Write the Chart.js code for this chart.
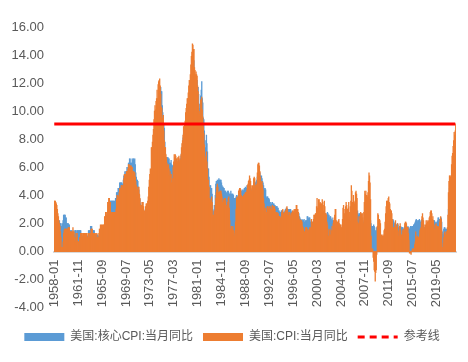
<!DOCTYPE html>
<html>
<head>
<meta charset="utf-8">
<script src="https://cdn.jsdelivr.net/npm/chart.js@4/dist/chart.umd.min.js"></script>
<style>
  body { margin: 0; background: #fff; }
  #wrap { width: 468px; height: 362px; }
</style>
</head>
<body>
<div id="wrap"><canvas id="chartCpi"></canvas></div>
<script>
// first month of the series, monthly data to 2022-06
var startYear = 1958;
var startMonth = 1;

// 美国:核心CPI:当月同比 (%)
var coreCpi = [
  2.6, 2.6, 2.6, 2.6, 2.6, 2.4, 2.4, 2.0, 2.0, 2.0, 2.2, 2.0, // 1958
  2.0, 2.0, 1.8, 1.8, 2.0, 2.2, 2.6, 2.6, 2.6, 2.6, 2.4, 2.4, // 1959
  2.0, 2.0, 2.0, 2.0, 1.9, 1.9, 1.5, 1.5, 1.2, 1.5, 1.5, 1.2, // 1960
  1.2, 1.2, 1.5, 1.2, 1.5, 1.5, 1.5, 1.2, 1.5, 1.5, 1.5, 1.5, // 1961
  1.5, 1.5, 1.5, 1.5, 1.1, 1.1, 1.1, 1.1, 1.1, 1.1, 1.1, 1.1, // 1962
  1.1, 1.1, 1.1, 1.1, 1.1, 1.1, 1.5, 1.5, 1.5, 1.5, 1.8, 1.8, // 1963
  1.8, 1.5, 1.5, 1.5, 1.5, 1.5, 1.2, 1.2, 1.2, 1.2, 1.2, 1.2, // 1964
  1.1, 1.1, 1.1, 1.1, 1.1, 1.1, 1.5, 1.5, 1.5, 1.5, 1.5, 1.5, // 1965
  1.5, 1.8, 2.2, 2.2, 2.6, 2.6, 2.6, 2.9, 3.3, 3.3, 3.3, 3.3, // 1966
  3.6, 3.6, 3.6, 3.6, 3.6, 3.6, 3.6, 3.6, 3.6, 3.5, 3.8, 3.8, // 1967
  4.2, 4.2, 4.2, 4.5, 4.5, 4.5, 4.9, 4.9, 4.9, 4.9, 4.9, 4.8, // 1968
  4.8, 5.1, 5.4, 5.4, 5.7, 5.4, 5.7, 5.7, 6.0, 5.7, 6.0, 6.3, // 1969
  6.3, 6.6, 6.6, 6.3, 6.3, 6.3, 6.6, 6.5, 6.6, 6.6, 6.5, 6.6, // 1970
  6.2, 5.6, 5.3, 5.1, 5.1, 5.0, 4.6, 4.4, 4.0, 3.7, 3.4, 3.1, // 1971
  3.1, 3.1, 3.1, 3.0, 3.0, 2.7, 2.7, 2.7, 2.7, 3.0, 3.0, 3.0, // 1972
  3.0, 2.7, 3.0, 3.0, 3.0, 3.0, 3.2, 3.2, 3.5, 3.8, 4.4, 4.7, // 1973
  5.0, 5.3, 5.9, 6.8, 7.9, 8.8, 9.6, 10.4, 10.8, 11.1, 11.1, 11.1, // 1974
  11.4, 11.7, 11.4, 11.4, 10.4, 9.9, 9.3, 9.1, 8.8, 7.8, 7.0, 6.7, // 1975
  6.7, 6.7, 6.7, 6.7, 6.6, 6.6, 6.3, 6.3, 6.3, 6.5, 6.2, 6.1, // 1976
  6.1, 6.1, 6.1, 6.0, 6.3, 6.2, 6.2, 6.4, 6.4, 6.1, 6.1, 6.5, // 1977
  6.5, 6.4, 6.4, 6.6, 6.8, 7.0, 7.2, 7.7, 8.1, 8.4, 8.6, 8.5, // 1978
  8.4, 8.7, 8.8, 9.0, 9.3, 9.4, 9.6, 10.1, 10.6, 11.0, 11.3, 11.3, // 1979
  12.0, 12.1, 13.0, 13.0, 13.1, 13.6, 12.4, 12.0, 12.0, 12.2, 12.1, 12.2, // 1980
  11.7, 11.7, 11.2, 10.5, 10.2, 9.6, 11.1, 11.5, 12.1, 10.9, 10.6, 9.5, // 1981
  9.4, 8.6, 7.3, 7.4, 7.9, 8.3, 7.7, 7.1, 5.9, 5.9, 5.3, 4.5, // 1982
  4.7, 4.7, 4.4, 4.5, 4.1, 3.3, 2.9, 2.8, 3.0, 3.3, 4.0, 4.8, // 1983
  5.0, 5.0, 5.1, 5.0, 5.1, 5.2, 5.1, 5.1, 5.1, 5.1, 4.9, 4.7, // 1984
  4.6, 4.6, 4.5, 4.5, 4.3, 4.3, 4.3, 4.0, 4.2, 4.1, 4.3, 4.3, // 1985
  4.2, 4.1, 4.1, 4.1, 4.3, 4.1, 4.1, 4.1, 4.1, 4.0, 3.8, 3.8, // 1986
  3.8, 3.8, 3.9, 4.0, 3.8, 3.9, 4.0, 4.1, 4.2, 4.3, 4.3, 4.2, // 1987
  4.3, 4.3, 4.4, 4.2, 4.3, 4.4, 4.5, 4.5, 4.6, 4.5, 4.5, 4.7, // 1988
  4.6, 4.6, 4.6, 4.6, 4.5, 4.5, 4.6, 4.4, 4.4, 4.3, 4.4, 4.4, // 1989
  4.4, 4.6, 4.9, 4.9, 4.9, 5.0, 5.1, 5.3, 5.3, 5.3, 5.3, 5.2, // 1990
  5.6, 5.4, 5.3, 5.4, 5.2, 5.0, 4.9, 4.7, 4.5, 4.4, 4.5, 4.4, // 1991
  3.9, 3.8, 3.9, 3.9, 3.8, 3.8, 3.7, 3.5, 3.3, 3.5, 3.4, 3.3, // 1992
  3.5, 3.3, 3.4, 3.4, 3.3, 3.3, 3.2, 3.2, 3.2, 3.2, 3.1, 3.1, // 1993
  2.9, 2.9, 2.8, 2.8, 2.8, 2.9, 2.9, 2.9, 2.9, 2.8, 2.8, 2.6, // 1994
  2.9, 3.0, 3.0, 3.1, 3.1, 3.0, 3.0, 3.0, 2.9, 3.0, 3.0, 3.0, // 1995
  2.9, 2.8, 2.8, 2.7, 2.7, 2.7, 2.7, 2.6, 2.7, 2.6, 2.6, 2.6, // 1996
  2.5, 2.5, 2.5, 2.7, 2.5, 2.4, 2.3, 2.2, 2.2, 2.3, 2.2, 2.2, // 1997
  2.2, 2.3, 2.1, 2.1, 2.2, 2.2, 2.2, 2.5, 2.5, 2.3, 2.4, 2.4, // 1998
  2.4, 2.1, 2.1, 2.2, 2.0, 2.1, 2.1, 1.9, 2.0, 2.1, 2.1, 1.9, // 1999
  2.0, 2.2, 2.4, 2.3, 2.4, 2.5, 2.5, 2.6, 2.6, 2.5, 2.6, 2.6, // 2000
  2.6, 2.7, 2.7, 2.6, 2.5, 2.7, 2.7, 2.7, 2.6, 2.6, 2.8, 2.7, // 2001
  2.6, 2.6, 2.4, 2.5, 2.5, 2.3, 2.2, 2.4, 2.2, 2.2, 2.0, 1.9, // 2002
  1.9, 1.7, 1.7, 1.5, 1.6, 1.5, 1.5, 1.3, 1.2, 1.3, 1.1, 1.1, // 2003
  1.1, 1.2, 1.6, 1.8, 1.7, 1.9, 1.8, 1.7, 2.0, 2.0, 2.2, 2.2, // 2004
  2.3, 2.4, 2.3, 2.2, 2.2, 2.0, 2.1, 2.1, 2.0, 2.1, 2.1, 2.2, // 2005
  2.1, 2.1, 2.1, 2.3, 2.4, 2.6, 2.7, 2.8, 2.9, 2.7, 2.6, 2.6, // 2006
  2.7, 2.7, 2.5, 2.3, 2.2, 2.2, 2.2, 2.1, 2.1, 2.2, 2.3, 2.4, // 2007
  2.5, 2.3, 2.4, 2.3, 2.3, 2.4, 2.5, 2.5, 2.5, 2.2, 2.0, 1.8, // 2008
  1.7, 1.8, 1.8, 1.9, 1.8, 1.7, 1.5, 1.4, 1.5, 1.7, 1.7, 1.8, // 2009
  1.6, 1.3, 1.1, 0.9, 0.9, 0.9, 0.9, 0.9, 0.8, 0.6, 0.8, 0.8, // 2010
  1.0, 1.1, 1.2, 1.3, 1.5, 1.6, 1.8, 2.0, 2.0, 2.1, 2.2, 2.2, // 2011
  2.3, 2.2, 2.3, 2.3, 2.3, 2.2, 2.1, 1.9, 2.0, 2.0, 1.9, 1.9, // 2012
  1.9, 2.0, 1.9, 1.7, 1.7, 1.6, 1.7, 1.8, 1.7, 1.7, 1.7, 1.7, // 2013
  1.6, 1.6, 1.7, 1.8, 2.0, 1.9, 1.9, 1.7, 1.7, 1.8, 1.7, 1.6, // 2014
  1.6, 1.7, 1.8, 1.8, 1.7, 1.8, 1.8, 1.8, 1.9, 1.9, 2.0, 2.1, // 2015
  2.2, 2.3, 2.2, 2.1, 2.2, 2.2, 2.2, 2.3, 2.2, 2.1, 2.1, 2.2, // 2016
  2.3, 2.2, 2.0, 1.9, 1.7, 1.7, 1.7, 1.7, 1.7, 1.8, 1.7, 1.8, // 2017
  1.8, 1.8, 2.1, 2.1, 2.2, 2.3, 2.4, 2.2, 2.2, 2.1, 2.2, 2.2, // 2018
  2.2, 2.1, 2.0, 2.1, 2.0, 2.1, 2.2, 2.4, 2.4, 2.3, 2.3, 2.3, // 2019
  2.3, 2.4, 2.1, 1.4, 1.2, 1.2, 1.6, 1.7, 1.7, 1.6, 1.6, 1.6, // 2020
  1.4, 1.3, 1.6, 3.0, 3.8, 4.5, 4.3, 4.0, 4.0, 4.6, 4.9, 5.5, // 2021
  6.0, 6.4, 6.5, 6.2, 6.0, 5.9                                // 2022
];

// 美国:CPI:当月同比 (%)
var cpi = [
  3.6, 3.6, 3.6, 3.5, 3.4, 3.3, 3.0, 2.7, 2.5, 2.2, 2.0, 1.8, // 1958
  1.4, 1.0, 0.3, 0.3, 0.3, 0.7, 1.3, 1.5, 1.6, 1.6, 1.6, 1.6, // 1959
  1.6, 1.6, 1.6, 1.7, 1.7, 1.7, 1.4, 1.4, 1.4, 1.4, 1.4, 1.4, // 1960
  1.7, 1.4, 1.4, 1.0, 1.0, 0.7, 1.3, 1.0, 1.3, 0.7, 0.7, 0.7, // 1961
  0.7, 1.0, 1.0, 1.3, 1.3, 1.3, 1.0, 1.3, 1.3, 1.3, 1.3, 1.3, // 1962
  1.3, 1.0, 1.3, 1.0, 1.0, 1.3, 1.3, 1.3, 1.0, 1.3, 1.3, 1.6, // 1963
  1.6, 1.6, 1.3, 1.3, 1.3, 1.3, 1.3, 1.0, 1.3, 1.0, 1.3, 1.0, // 1964
  1.0, 1.0, 1.3, 1.6, 1.6, 1.9, 1.6, 1.9, 1.6, 1.9, 1.6, 1.9, // 1965
  1.9, 2.5, 2.5, 2.8, 2.8, 2.5, 2.8, 3.5, 3.5, 3.8, 3.8, 3.5, // 1966
  3.5, 2.8, 2.8, 2.5, 2.8, 2.8, 2.8, 2.5, 2.8, 2.5, 2.8, 3.0, // 1967
  3.7, 4.0, 4.0, 3.9, 3.9, 4.2, 4.5, 4.5, 4.4, 4.7, 4.7, 4.7, // 1968
  4.4, 4.7, 5.2, 5.5, 5.5, 5.5, 5.4, 5.7, 5.7, 5.7, 5.9, 6.2, // 1969
  6.2, 6.1, 5.8, 6.1, 6.1, 6.0, 6.0, 5.4, 5.7, 5.7, 5.6, 5.6, // 1970
  5.3, 5.0, 4.7, 4.2, 4.4, 4.6, 4.4, 4.6, 4.1, 3.8, 3.3, 3.3, // 1971
  3.3, 3.5, 3.5, 3.5, 3.2, 2.7, 2.9, 2.9, 3.2, 3.4, 3.4, 3.4, // 1972
  3.6, 3.9, 4.6, 5.1, 5.5, 5.9, 5.7, 7.4, 7.4, 7.8, 8.3, 8.7, // 1973
  9.4, 10.0, 10.4, 10.1, 10.7, 10.9, 11.5, 10.9, 11.9, 12.1, 12.2, 12.3, // 1974
  11.8, 11.2, 10.3, 10.2, 9.5, 9.3, 9.7, 8.6, 7.9, 7.4, 7.4, 6.9, // 1975
  6.7, 6.3, 6.1, 6.0, 6.2, 5.9, 5.4, 5.7, 5.5, 5.5, 4.9, 4.9, // 1976
  5.2, 6.0, 6.4, 6.9, 6.7, 6.9, 6.8, 6.6, 6.6, 6.4, 6.7, 6.7, // 1977
  6.8, 6.4, 6.6, 6.5, 6.9, 7.4, 7.7, 7.9, 8.3, 8.9, 8.9, 9.0, // 1978
  9.3, 9.9, 10.2, 10.5, 10.9, 10.9, 11.3, 11.8, 12.2, 12.1, 12.6, 13.3, // 1979
  13.9, 14.2, 14.8, 14.7, 14.4, 14.4, 13.1, 12.9, 12.6, 12.8, 12.6, 12.5, // 1980
  11.8, 11.4, 10.5, 10.0, 9.8, 9.6, 10.8, 10.8, 11.0, 10.1, 9.6, 8.9, // 1981
  8.4, 7.6, 6.8, 6.5, 6.7, 7.1, 6.4, 5.9, 5.0, 5.1, 4.6, 3.8, // 1982
  3.7, 3.5, 3.6, 3.9, 3.5, 2.6, 2.5, 2.6, 2.9, 2.9, 3.3, 3.8, // 1983
  4.2, 4.6, 4.8, 4.6, 4.2, 4.2, 4.2, 4.3, 4.3, 4.3, 4.1, 3.9, // 1984
  3.5, 3.5, 3.7, 3.7, 3.8, 3.8, 3.6, 3.3, 3.1, 3.2, 3.5, 3.8, // 1985
  3.9, 3.1, 2.2, 1.6, 1.5, 1.8, 1.6, 1.6, 1.8, 1.5, 1.3, 1.1, // 1986
  1.5, 2.1, 3.0, 3.8, 3.9, 3.7, 3.9, 4.3, 4.4, 4.5, 4.5, 4.4, // 1987
  4.0, 3.9, 3.9, 3.9, 3.9, 4.0, 4.1, 4.0, 4.2, 4.2, 4.2, 4.4, // 1988
  4.7, 4.8, 5.0, 5.1, 5.4, 5.2, 5.0, 4.7, 4.3, 4.5, 4.7, 4.6, // 1989
  5.2, 5.3, 5.2, 4.7, 4.4, 4.7, 4.8, 5.6, 6.2, 6.3, 6.3, 6.1, // 1990
  5.7, 5.3, 4.9, 4.9, 5.0, 4.7, 4.4, 3.8, 3.4, 2.9, 3.0, 3.1, // 1991
  2.6, 2.8, 3.2, 3.2, 3.0, 3.1, 3.2, 3.1, 3.0, 3.2, 3.0, 2.9, // 1992
  3.3, 3.2, 3.1, 3.2, 3.2, 3.0, 2.8, 2.8, 2.7, 2.8, 2.7, 2.7, // 1993
  2.5, 2.5, 2.5, 2.4, 2.3, 2.5, 2.8, 2.9, 3.0, 2.6, 2.7, 2.7, // 1994
  2.8, 2.9, 2.9, 3.1, 3.2, 3.0, 2.8, 2.6, 2.5, 2.8, 2.6, 2.5, // 1995
  2.7, 2.7, 2.8, 2.9, 2.9, 2.8, 3.0, 2.9, 3.0, 3.0, 3.3, 3.3, // 1996
  3.0, 3.0, 2.8, 2.5, 2.2, 2.3, 2.2, 2.2, 2.2, 2.1, 1.8, 1.7, // 1997
  1.6, 1.4, 1.4, 1.4, 1.7, 1.7, 1.7, 1.6, 1.5, 1.5, 1.5, 1.6, // 1998
  1.7, 1.6, 1.7, 2.3, 2.1, 2.0, 2.1, 2.3, 2.6, 2.6, 2.6, 2.7, // 1999
  2.7, 3.2, 3.8, 3.1, 3.2, 3.7, 3.7, 3.4, 3.5, 3.4, 3.4, 3.4, // 2000
  3.7, 3.5, 2.9, 3.3, 3.6, 3.2, 2.7, 2.7, 2.6, 2.1, 1.9, 1.6, // 2001
  1.1, 1.1, 1.5, 1.6, 1.2, 1.1, 1.5, 1.8, 1.5, 2.0, 2.2, 2.4, // 2002
  2.6, 3.0, 3.0, 2.2, 2.1, 2.1, 2.1, 2.2, 2.3, 2.0, 1.8, 1.9, // 2003
  1.9, 1.7, 1.7, 2.3, 3.1, 3.3, 3.0, 2.7, 2.5, 3.2, 3.5, 3.3, // 2004
  3.0, 3.0, 3.1, 3.5, 2.8, 2.5, 3.2, 3.6, 4.7, 4.3, 3.5, 3.4, // 2005
  4.0, 3.6, 3.4, 3.5, 4.2, 4.3, 4.1, 3.8, 2.1, 1.3, 2.0, 2.5, // 2006
  2.1, 2.4, 2.8, 2.6, 2.7, 2.7, 2.4, 2.0, 2.8, 3.5, 4.3, 4.1, // 2007
  4.3, 4.0, 4.0, 3.9, 4.2, 5.0, 5.6, 5.4, 4.9, 3.7, 1.1, 0.1, // 2008
  0.0, 0.2, -0.4, -0.7, -1.3, -1.4, -2.1, -1.5, -1.3, -0.2, 1.8, 2.7, // 2009
  2.6, 2.1, 2.3, 2.2, 2.0, 1.1, 1.2, 1.1, 1.1, 1.2, 1.1, 1.5, // 2010
  1.6, 2.1, 2.7, 3.2, 3.6, 3.6, 3.6, 3.8, 3.9, 3.5, 3.4, 3.0, // 2011
  2.9, 2.9, 2.7, 2.3, 1.7, 1.7, 1.4, 1.7, 2.0, 2.2, 1.8, 1.7, // 2012
  1.6, 2.0, 1.5, 1.1, 1.4, 1.8, 2.0, 1.5, 1.2, 1.0, 1.2, 1.5, // 2013
  1.6, 1.1, 1.5, 2.0, 2.1, 2.1, 2.0, 1.7, 1.7, 1.7, 1.3, 0.8, // 2014
  -0.1, 0.0, -0.1, -0.2, 0.0, 0.1, 0.2, 0.2, 0.0, 0.2, 0.5, 0.7, // 2015
  1.4, 1.0, 0.9, 1.1, 1.0, 1.0, 0.8, 1.1, 1.5, 1.6, 1.7, 2.1, // 2016
  2.5, 2.7, 2.4, 2.2, 1.9, 1.6, 1.7, 1.9, 2.2, 2.0, 2.2, 2.1, // 2017
  2.1, 2.2, 2.4, 2.5, 2.8, 2.9, 2.9, 2.7, 2.3, 2.5, 2.2, 1.9, // 2018
  1.6, 1.5, 1.9, 2.0, 1.8, 1.6, 1.8, 1.7, 1.7, 1.8, 2.1, 2.3, // 2019
  2.5, 2.3, 1.5, 0.3, 0.1, 0.6, 1.0, 1.3, 1.4, 1.2, 1.2, 1.4, // 2020
  1.4, 1.7, 2.6, 4.2, 5.0, 5.4, 5.4, 5.3, 5.4, 6.2, 6.8, 7.0, // 2021
  7.5, 7.9, 8.5, 8.3, 8.6, 9.1                                // 2022
];

// 参考线
var refValue = 9.1;

// show one date label every 46 months, as in the source chart
var labelStep = 46;

var labels = [];
for (var i = 0; i < cpi.length; i++) {
    var m = startMonth - 1 + i;
    var y = startYear + Math.floor(m / 12);
    var mm = (m % 12) + 1;
    labels.push(y + '-' + (mm < 10 ? '0' + mm : mm));
}
var refLine = labels.map(function() { return refValue; });

var textColor = '#595959';
var fontFamily = "'Liberation Sans', 'Noto Sans CJK SC', sans-serif";

var ctx = document.querySelector('#chartCpi').getContext('2d');
var chart = new Chart(ctx, {
    type: 'bar',
    data: {
        labels: labels,
        datasets: [{
            label: '美国:核心CPI:当月同比',
            data: coreCpi,
            backgroundColor: '#5B9BD5',
            borderColor: '#5B9BD5',
            borderWidth: 0,
            order: 2
        }, {
            label: '美国:CPI:当月同比',
            data: cpi,
            backgroundColor: '#ED7D31',
            borderColor: '#ED7D31',
            borderWidth: 0,
            order: 1
        }, {
            type: 'line',
            label: '参考线',
            data: refLine,
            borderColor: '#FF0000',
            backgroundColor: '#FF0000',
            borderWidth: 3,
            pointRadius: 0,
            order: 0
        }]
    },
    options: {
        responsive: true,
        maintainAspectRatio: false,
        animation: false,
        layout: { padding: { left: 8, right: 12, top: 27, bottom: 9 } },
        datasets: {
            bar: {
                grouped: false,
                barPercentage: 1,
                categoryPercentage: 1,
                inflateAmount: 0.4
            }
        },
        scales: {
            x: {
                position: { y: 0 },
                grid: {
                    drawOnChartArea: false,
                    tickLength: 6,
                    tickWidth: 1.5,
                    tickColor: function(c) { return c.index % labelStep === 0 ? '#D9D9D9' : 'rgba(0,0,0,0)'; }
                },
                border: { color: '#D9D9D9', width: 2 },
                ticks: {
                    autoSkip: false,
                    minRotation: 90,
                    maxRotation: 90,
                    padding: 2,
                    color: textColor,
                    font: { family: fontFamily, size: 13 },
                    callback: function(value, index) {
                        return index % labelStep === 0 ? this.getLabelForValue(value) : null;
                    }
                }
            },
            y: {
                min: -4,
                max: 16,
                grid: { display: false, drawTicks: false },
                border: { display: false },
                afterFit: function(scale) { scale.width = 46; },
                ticks: {
                    stepSize: 2,
                    padding: 10,
                    color: textColor,
                    font: { family: fontFamily, size: 13 },
                    callback: function(v) { return v.toFixed(2); }
                }
            }
        },
        plugins: {
            tooltip: { enabled: false },
            legend: {
                position: 'bottom',
                title: { display: true, text: '', padding: 0, font: { size: 11 } },
                labels: {
                    usePointStyle: true,
                    pointStyleWidth: 40,
                    boxHeight: 8,
                    padding: 10,
                    color: textColor,
                    font: { family: fontFamily, size: 12 },
                    generateLabels: function(chart) {
                        return chart.data.datasets.map(function(ds, i) {
                            var isLine = ds.type === 'line';
                            return {
                                text: ds.label,
                                fillStyle: ds.backgroundColor,
                                strokeStyle: ds.borderColor,
                                lineWidth: isLine ? 3 : 0,
                                lineDash: isLine ? [7, 5] : [],
                                pointStyle: isLine ? 'line' : 'rect',
                                fontColor: textColor,
                                hidden: false,
                                datasetIndex: i
                            };
                        });
                    }
                }
            }
        }
    }
});
</script>
</body>
</html>
